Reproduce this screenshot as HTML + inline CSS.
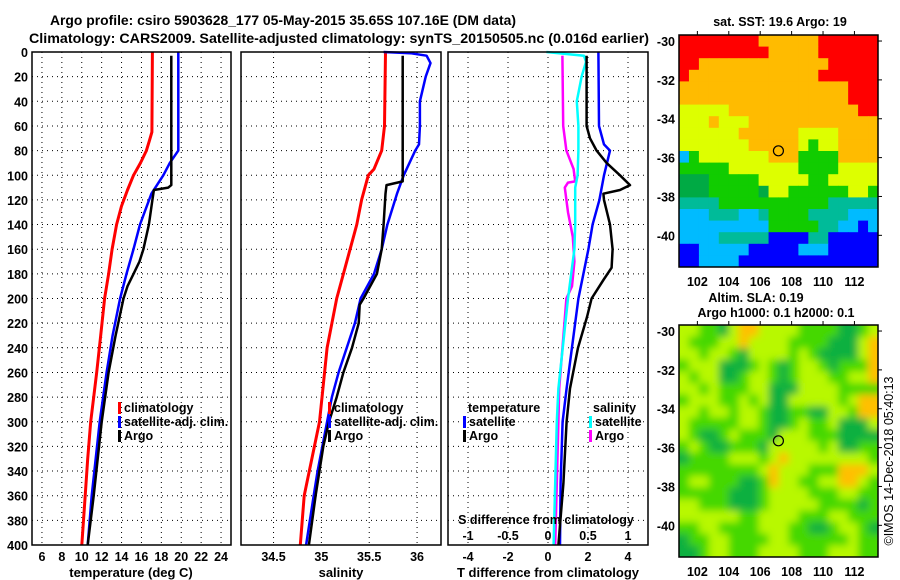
<!DOCTYPE html>
<html><head><meta charset="utf-8"><style>
html,body{margin:0;padding:0;background:#fff;}
svg{display:block;font-family:"Liberation Sans",Arial,sans-serif;font-weight:bold;}
</style></head><body>
<svg id="fig" width="900" height="580" viewBox="0 0 900 580" xmlns="http://www.w3.org/2000/svg">
<defs>
<filter id="soft" x="0" y="0" width="1" height="1"><feGaussianBlur stdDeviation="4"/></filter>
<clipPath id="slaClip"><rect x="679" y="325" width="199" height="232"/></clipPath>
</defs>
<rect width="900" height="580" fill="#fff"/>
<text x="283" y="25" font-size="14" text-anchor="middle" textLength="466" lengthAdjust="spacingAndGlyphs">Argo profile: csiro 5903628_177 05-May-2015 35.65S 107.16E (DM data)</text>
<text x="339" y="43" font-size="14" text-anchor="middle" textLength="620" lengthAdjust="spacingAndGlyphs">Climatology: CARS2009. Satellite-adjusted climatology: synTS_20150505.nc (0.016d earlier)</text>
<g id="plots"></g>
<text x="131" y="577" font-size="13" text-anchor="middle">temperature (deg C)</text>
<text x="341" y="577" font-size="13" text-anchor="middle">salinity</text>
<text x="548" y="577" font-size="13" text-anchor="middle">T difference from climatology</text>
<text x="546" y="524" font-size="12.5" text-anchor="middle">S difference from climatology</text>
<text x="780" y="26" font-size="12.5" text-anchor="middle">sat. SST: 19.6 Argo: 19</text>
<text x="756" y="302" font-size="12.5" text-anchor="middle">Altim. SLA: 0.19</text>
<text x="776" y="317" font-size="12.5" text-anchor="middle">Argo h1000: 0.1 h2000: 0.1</text>
<text transform="translate(893,461) rotate(-90)" font-size="12.5" font-weight="normal" text-anchor="middle">©IMOS 14-Dec-2018 05:40:13</text>
</svg>
<script>
// ---- depth grid
const depthTicks=[0,20,40,60,80,100,120,140,160,180,200,220,240,260,280,300,320,340,360,380,400];
// temperature panel
const tempTicks=[6,8,10,12,14,16,18,20,22,24];
const climTDepth=[0,65,72,80,90,100,112,125,140,160,180,200,230,260,300,330,360,400];
const climTVal=[17.1,17.05,16.8,16.5,15.9,15.2,14.6,14.0,13.5,13.05,12.7,12.3,11.9,11.5,10.9,10.6,10.35,10.0];
const satTDepth=[0,80,90,100,115,140,160,180,200,230,260,300,330,360,400];
const satTVal=[19.7,19.7,18.85,18.2,17.0,15.85,15.2,14.5,13.85,13.1,12.5,11.8,11.4,11.0,10.6];
const argoTDepth=[3,55,108,110,112,120,140,160,170,180,190,200,230,260,300,330,360,400];
const argoTVal=[19.0,19.0,19.0,18.7,17.25,17.1,16.75,16.2,15.8,15.2,14.6,14.2,13.4,12.7,12.0,11.6,11.2,10.6];
// salinity panel
const salTicks=[34.5,35,35.5,36];
const climSDepth=[0,60,80,95,100,120,140,160,180,200,240,300,360,400];
const climSVal=[35.67,35.66,35.63,35.55,35.49,35.42,35.37,35.30,35.23,35.16,35.06,34.98,34.82,34.78];
const satSDepth=[0,1,3,9,20,40,60,75,80,100,115,140,160,180,200,220,260,280,300,340,360,400];
const satSVal=[35.65,35.93,36.10,36.14,36.09,36.03,36.03,36.02,35.98,35.86,35.79,35.69,35.63,35.55,35.41,35.35,35.18,35.11,35.06,34.96,34.92,34.84];
const argoSDepth=[3,105,108,115,140,160,180,200,205,220,240,260,280,300,320,360,400];
const argoSVal=[35.85,35.85,35.68,35.67,35.65,35.63,35.58,35.44,35.40,35.39,35.32,35.23,35.16,35.08,35.02,34.94,34.87];
// difference panel
const dTTicks=[-4,-2,0,2,4];
const dSTicks=[-1,-0.5,0,0.5,1];
const dSTickLabels=["-1","-0.5","0","0.5","1"];
const argoDTDepth=[3,60,70,80,90,100,108,112,115,120,140,160,175,185,200,215,240,273,300,350,400];
const argoDTVal=[1.93,1.93,2.1,2.43,2.93,3.6,4.1,3.6,2.77,2.8,3.1,3.23,3.18,2.77,2.18,1.95,1.5,1.1,0.93,0.77,0.52];
const satDTDepth=[0,60,75,80,100,120,140,160,180,200,273,300,350,400];
const satDTVal=[2.52,2.55,2.8,3.1,2.8,2.57,2.23,2.02,1.77,1.52,0.93,0.73,0.63,0.6];
const satDSDepth=[0,3,8,20,40,60,80,100,110,140,160,200,273,300,350,400];
const satDSVal=[-0.02,0.45,0.475,0.42,0.36,0.38,0.38,0.37,0.34,0.34,0.33,0.25,0.13,0.11,0.09,0.07];
const argoDSDepth=[3,60,80,95,105,106,110,130,150,170,190,200,273,300,400];
const argoDSVal=[0.18,0.19,0.23,0.32,0.34,0.25,0.21,0.25,0.31,0.33,0.30,0.23,0.14,0.13,0.09];
// maps
const lonTicks=[102,104,106,108,110,112];
const latTicks=[-30,-32,-34,-36,-38,-40];
const argoLon=107.16, argoLat=-35.65;
const sstRows=[
"RRRRRRRROOOOOORRRRRR","RRRRRRRRROOOOORRRRRR","RROOOOOOOOOOOOORRRRR","ROOOOOOOOOOOOORRRRRR",
"OOOOOOOOOOOOOOOOORRR","OOOOOOOOOOOOOOOOORRR","YYYYYOOOOOOOOOOOOORR","YYYOYYYOOOOOOOOOOOOO",
"YYYYYYOOOOOOYYYYOOOO","YYYYYYYOOOOOYLYYOOOO","CLYYYYYYYOOOLLLLOOOO","LLLLLYYYYYYYLLLLYYYY",
"GGGLLLLLYYYYYLLYYYYY","GGGLLLLLGYYLLLLLLYYL","TTTTLLLLLLLLLLLTTTTT","CCCTTTCCTLLLLTTTTCCC",
"CCCCCCCCCLLLLLTTCCBC","CCCCTTTTTBBBBTTBBBBB","BBCCCCCBBBBBCCCBBBBB","BBCCCCBBBBBBBBBBBBBB"];
const slaRows=[
"yyggdyooyyyyggggddgy","ygggyyoyyyyggggdddyo","yygyygdyyyygygddddyo","gyyydddgygdgyygdgggo",
"ygyyddgyygdgyyyggyyo","yygygggyydddyyyygggg","gyyyggygyddyyyyygyoo","yygyygyygddggddyygoo",
"ygggggyygddgyggydddy","ygddgygggdyyygggdddd","gygddgggdyyyyygyddgg","dggggyyygyoyyyyyyyyg",
"ggggggggyoyyygggoooy","gyygggddgoyyggyyooyg","gggggdddgyyyygggyygg","yygggdddgyyyyyggggdg",
"yyyyyyggyyyygggyyggg","ggyyggggyyyggddgyygd","dggyyggggyyggggggyggd","ddgyygggyyyygggyyygg"];
</script>
<script>
const NS="http://www.w3.org/2000/svg";
const plots=document.getElementById('plots');
function mk(tag,attrs,parent){const e=document.createElementNS(NS,tag);for(const k in attrs)e.setAttribute(k,attrs[k]);(parent||plots).appendChild(e);return e;}
const Y0=52,Y1=545;
function yD(d){return Y0+(d/400)*(Y1-Y0);}
function panel(name){
  const g=mk('g',{});
  
  
  return g;
}
function grid(g,xs,x0,x1){
  xs.forEach(x=>{const l=mk('line',{x1:x,x2:x,y1:Y0,y2:Y1,stroke:'#000','stroke-width':1,'stroke-dasharray':'1,4'},g);
    
    });
  depthTicks.forEach(d=>{const l=mk('line',{x1:x0,x2:x1,y1:yD(d),y2:yD(d),stroke:'#000','stroke-width':1,'stroke-dasharray':'1,4'},g);
    
    });
}
function frame(g,x0,x1){const r=mk('rect',{x:x0,y:Y0,width:x1-x0,height:Y1-Y0,fill:'none',stroke:'#000','stroke-width':1.5},g);
  
  }
function line(g,depths,vals,fx,color,w,name){
  const pts=depths.map((d,i)=>fx(vals[i]).toFixed(1)+','+yD(d).toFixed(1)).join(' ');
  const p=mk('polyline',{points:pts,fill:'none',stroke:color,'stroke-width':w,'stroke-linejoin':'round'},g);
  
  
}
function txt(g,x,y,s,size,anchor,name){const t=mk('text',{x:x,y:y,'font-size':size,'text-anchor':anchor||'start'},g);t.textContent=s;
  
  return t;}
function legendItem(g,x,y,color,label){
  const r=mk('rect',{x:x,y:y-10,width:3,height:12,fill:color},g);
  
  
  txt(g,x+6,y,label,12.5,'start','legend-entry');
}
// ---- temperature panel
const tx0=32,tx1=231;
const fT=v=>tx0+(v-5)*(tx1-tx0)/20;
const gT=panel('temperature-panel');
grid(gT,tempTicks.map(fT),tx0,tx1);
line(gT,climTDepth,climTVal,fT,'#f00',3,'temperature-climatology-line');
line(gT,satTDepth,satTVal,fT,'#00f',2.5,'temperature-satellite-line');
line(gT,argoTDepth,argoTVal,fT,'#000',2.5,'temperature-argo-line');
frame(gT,tx0,tx1);
depthTicks.forEach(d=>txt(gT,28,yD(d)+5,String(d),12.5,'end','depth-tick-label'));
tempTicks.forEach(v=>txt(gT,fT(v),561,String(v),12.5,'middle','temperature-tick-label'));
legendItem(gT,118,412,'#f00','climatology');
legendItem(gT,118,426,'#00f','satellite-adj. clim.');
legendItem(gT,118,440,'#000','Argo');
// ---- salinity panel
const sx0=241,sx1=441,sLo=34.16,sHi=36.25;
const fS=v=>sx0+(v-sLo)*(sx1-sx0)/(sHi-sLo);
const gS=panel('salinity-panel');
grid(gS,salTicks.map(fS),sx0,sx1);
line(gS,climSDepth,climSVal,fS,'#f00',3,'salinity-climatology-line');
line(gS,satSDepth,satSVal,fS,'#00f',2.5,'salinity-satellite-line');
line(gS,argoSDepth,argoSVal,fS,'#000',2.5,'salinity-argo-line');
frame(gS,sx0,sx1);
salTicks.forEach(v=>txt(gS,fS(v),561,String(v),12.5,'middle','salinity-tick-label'));
legendItem(gS,328,412,'#f00','climatology');
legendItem(gS,328,426,'#00f','satellite-adj. clim.');
legendItem(gS,328,440,'#000','Argo');
// ---- difference panel
const dx0=448,dx1=648;
const fDT=v=>dx0+(v+5)*(dx1-dx0)/10;
const fDS=v=>fDT(v*4);
const gD=panel('difference-panel');
grid(gD,dTTicks.map(fDT),dx0,dx1);
line(gD,argoDSDepth,argoDSVal,fDS,'#f0f',2.5,'salinity-diff-argo-line');
line(gD,satDSDepth,satDSVal,fDS,'#0ff',2.5,'salinity-diff-satellite-line');
line(gD,satDTDepth,satDTVal,fDT,'#00f',2.5,'temperature-diff-satellite-line');
line(gD,argoDTDepth,argoDTVal,fDT,'#000',2.5,'temperature-diff-argo-line');
frame(gD,dx0,dx1);
dTTicks.forEach(v=>txt(gD,fDT(v),561,String(v),12.5,'middle','t-diff-tick-label'));
dSTicks.forEach((v,i)=>txt(gD,fDS(v),540,dSTickLabels[i],12.5,'middle','s-diff-tick-label'));
txt(gD,468,412,'temperature',12.5,'start','legend-heading');
legendItem(gD,463,426,'#00f','satellite');
legendItem(gD,463,440,'#000','Argo');
txt(gD,593,412,'salinity',12.5,'start','legend-heading');
legendItem(gD,589,426,'#0ff','satellite');
legendItem(gD,589,440,'#f0f','Argo');
// ---- maps
const lonLo=100.83,lonHi=113.5,latTop=-29.69,latBot=-41.63;
const mx0=679,mx1=878;
const sstCol={R:'#ff0000',O:'#ffbb00',Y:'#ddff00',L:'#11cc00',G:'#00aa44',T:'#00bb99',C:'#00bbff',B:'#0000ff',K:'#000'};
const slaCol={y:'#b8f800',g:'#44d800',d:'#10b040',o:'#ffc000'};
function map(name,my0,my1,rows,cols,smooth){
  const g=mk('g',{});
  
  
  const fx=lon=>mx0+(lon-lonLo)*(mx1-mx0)/(lonHi-lonLo);
  const fy=lat=>my0+(latTop-lat)*(my1-my0)/(latTop-latBot);
  let cg=g;
  if(smooth){
    const outer=mk('g',{'clip-path':'url(#slaClip)'},g);
    
    
    mk('rect',{x:mx0,y:my0,width:mx1-mx0,height:my1-my0,fill:cols.g},outer);
    cg=mk('g',{filter:'url(#soft)'},outer);
  }
  const nr=rows.length,nc=rows[0].length,cw=(mx1-mx0)/nc,ch=(my1-my0)/nr;
  const pad=smooth?8:0;
  rows.forEach((row,r)=>{for(let c=0;c<nc;c++){
    let x=mx0+c*cw,y=my0+r*ch,w=cw+0.5,h=ch+0.5;
    if(smooth){ if(c===0){x-=pad;w+=pad;} if(c===nc-1){w+=pad;} if(r===0){y-=pad;h+=pad;} if(r===nr-1){h+=pad;} }
    const cell=mk('rect',{x:x.toFixed(2),y:y.toFixed(2),width:w.toFixed(2),height:h.toFixed(2),fill:cols[row[c]]},cg);
    
    
  }});
  const fr=mk('rect',{x:mx0,y:my0,width:mx1-mx0,height:my1-my0,fill:'none',stroke:'#000','stroke-width':1.5},g);
  
  
  lonTicks.forEach(v=>{const x=fx(v);
    const t1=mk('line',{x1:x,x2:x,y1:my0-4,y2:my0,stroke:'#000'},g);
    
    
    txt(g,x,my1+19,String(v),12.5,'middle','longitude-tick-label');});
  latTicks.forEach(v=>{const y=fy(v);
    const t2=mk('line',{x1:mx1,x2:mx1+4,y1:y,y2:y,stroke:'#000'},g);
    
    
    txt(g,675,y+5,String(v),12.5,'end','latitude-tick-label');});
  const c=mk('circle',{cx:fx(argoLon),cy:fy(argoLat),r:5,fill:'none',stroke:'#000','stroke-width':1.2},g);
  
  
}
map('sst-map',35,267,sstRows,sstCol,false);
map('sla-map',325,557,slaRows,slaCol,true);
</script>
</body></html>
